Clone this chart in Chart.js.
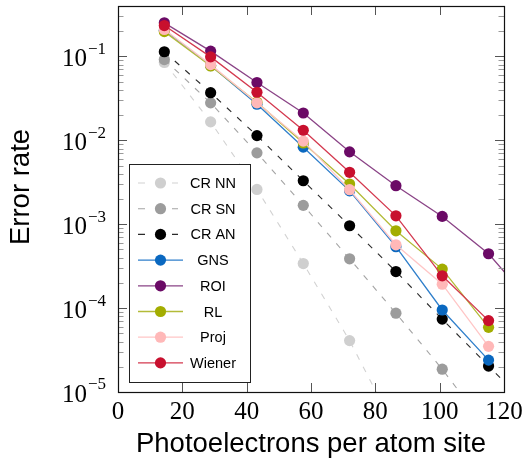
<!DOCTYPE html>
<html><head><meta charset="utf-8">
<script src="https://cdn.jsdelivr.net/npm/chart.js@4"></script>
<style>html,body{margin:0;padding:0;background:#fff;overflow:hidden}</style>
</head><body>
<canvas id="c" width="530" height="466"></canvas>
<script>
// photoelectrons per atom site (x positions of the measurements)
const photoelectrons = [14.4, 28.8, 43.2, 57.6, 72, 86.4, 100.8, 115.2, 129.6];
const seriesNames = ['CR NN', 'CR SN', 'CR AN', 'GNS', 'ROI', 'RL', 'Proj', 'Wiener'];
const crNN   = [0.085, 0.0166, 0.0026, 0.00034, 4.1e-5, 3.5e-6];
const crSN   = [0.092, 0.028, 0.0071, 0.00168, 0.000387, 8.7e-5, 1.87e-5, 3.5e-6];
const crAN   = [0.114, 0.037, 0.0114, 0.0033, 0.00096, 0.000273, 7.4e-5, 2.04e-5, 5.7e-6];
const gns    = [0.205, 0.078, 0.027, 0.0083, 0.0025, 0.00054, 9.5e-5, 2.4e-5];
const roi    = [0.252, 0.116, 0.049, 0.0212, 0.0073, 0.00288, 0.00124, 0.000445, 1.03e-4];
const rl     = [0.198, 0.077, 0.0285, 0.0093, 0.00302, 0.000835, 0.000292, 5.9e-5];
const proj   = [0.21, 0.080, 0.028, 0.0098, 0.00258, 0.000569, 0.000193, 3.5e-5];
const wiener = [0.234, 0.099, 0.0375, 0.0132, 0.00416, 0.00126, 0.000243, 7.1e-5];
const xTicks = [0, 20, 40, 60, 80, 100, 120];
const yDecades = [-5, -4, -3, -2, -1];
const xTitle = 'Photoelectrons per atom site';
const yTitle = 'Error rate';

const seriesValues = [crNN, crSN, crAN, gns, roi, rl, proj, wiener];
const styles = [
  {point:'#cfcfcf', line:'#d2d2d2', dash:true},
  {point:'#9c9c9c', line:'#a4a4a4', dash:true},
  {point:'#000000', line:'#2a2a2a', dash:true},
  {point:'#0a68c0', line:'#2f7fcb', dash:false},
  {point:'#6b0a66', line:'#8a4386', dash:false},
  {point:'#a3ad00', line:'#b3bb38', dash:false},
  {point:'#ffb8b8', line:'#ffc6c6', dash:false},
  {point:'#c8102e', line:'#d4394f', dash:false}
];

const datasets = seriesValues.map((vals, i) => ({
  label: seriesNames[i],
  data: vals.map((v, k) => ({x: photoelectrons[k], y: v})),
  borderColor: styles[i].line,
  borderWidth: styles[i].dash ? 1.1 : 1.3,
  borderDash: styles[i].dash ? [6, 8] : [],
  pointBackgroundColor: styles[i].point,
  pointBorderWidth: 0,
  pointRadius: 5.6,
  pointHoverRadius: 5.6,
  tension: 0,
  fill: false,
  order: seriesNames.length - 1 - i,
  clip: 0
}));

const L = 118, R = 504, T = 6, B = 392;

const decor = {
  id: 'decor',
  afterDraw(chart) {
    const ctx = chart.ctx;
    const xs = chart.scales.x, ys = chart.scales.y;
    ctx.save();
    // ticks
    ctx.lineWidth = 1;
    const yMax = ys.max;
    yDecades.forEach(d => {
      for (let m = 1; m <= 9; m++) {
        const v = m * Math.pow(10, d);
        if (v > yMax * 1.0001) break;
        const y = Math.round(ys.getPixelForValue(v)) + 0.5;
        const len = m === 1 ? 9 : 5.5;
        ctx.strokeStyle = m === 1 ? '#555' : '#9a9a9a';
        ctx.beginPath();
        ctx.moveTo(L, y); ctx.lineTo(L + len, y);
        ctx.moveTo(R, y); ctx.lineTo(R - len, y);
        ctx.stroke();
      }
    });
    ctx.strokeStyle = '#555';
    xTicks.forEach(t => {
      const x = Math.round(xs.getPixelForValue(t)) + 0.5;
      ctx.beginPath();
      ctx.moveTo(x, B); ctx.lineTo(x, B - 9);
      ctx.moveTo(x, T); ctx.lineTo(x, T + 9);
      ctx.stroke();
    });
    // frame
    ctx.strokeStyle = '#111';
    ctx.lineWidth = 1.2;
    ctx.strokeRect(L + 0.5, T + 0.5, R - L, B - T);

    // x tick labels
    ctx.fillStyle = '#000';
    ctx.font = '25px "Liberation Serif", serif';
    ctx.textAlign = 'center';
    ctx.textBaseline = 'middle';
    xTicks.forEach(t => {
      ctx.fillText(String(t), xs.getPixelForValue(t), 412);
    });
    // y tick labels 10^d
    yDecades.forEach(d => {
      const y = ys.getPixelForValue(Math.pow(10, d));
      const exp = '\u2212' + Math.abs(d);
      ctx.font = '17px "Liberation Serif", serif';
      ctx.textAlign = 'right';
      const ew = ctx.measureText(exp).width;
      ctx.fillText(exp, 106, y - 7);
      ctx.font = '25px "Liberation Serif", serif';
      ctx.fillText('10', 106 - ew - 1, y + 3);
    });
    // axis titles
    ctx.font = '27.5px "Liberation Sans", Arial, sans-serif';
    ctx.textAlign = 'center';
    ctx.fillText(xTitle, 311, 444);
    ctx.save();
    ctx.translate(21, 187);
    ctx.rotate(-Math.PI / 2);
    ctx.fillText(yTitle, 0, 0);
    ctx.restore();

    // legend
    const lx = 129.5, ly = 164.5, lw = 121, lh = 218;
    ctx.fillStyle = '#fff';
    ctx.fillRect(lx, ly, lw, lh);
    ctx.strokeStyle = '#222';
    ctx.lineWidth = 1;
    ctx.strokeRect(lx, ly, lw, lh);
    ctx.font = '14.5px "Liberation Sans", Arial, sans-serif';
    ctx.textAlign = 'center';
    ctx.textBaseline = 'middle';
    seriesNames.forEach((name, i) => {
      const y = 183 + i * 25.7;
      const st = styles[i];
      ctx.strokeStyle = st.line;
      ctx.lineWidth = st.dash ? 1.1 : 1.3;
      ctx.beginPath();
      if (st.dash) {
        ctx.moveTo(138, y); ctx.lineTo(145, y);
        ctx.moveTo(172, y); ctx.lineTo(178, y);
      } else {
        ctx.moveTo(138, y); ctx.lineTo(183, y);
      }
      ctx.stroke();
      ctx.fillStyle = st.point;
      ctx.beginPath();
      ctx.arc(160.5, y, 5.6, 0, Math.PI * 2);
      ctx.fill();
      ctx.fillStyle = '#000';
      ctx.fillText(name, 213, y + 1);
    });
    ctx.restore();
  }
};

new Chart(document.getElementById('c'), {
  type: 'line',
  data: {datasets},
  options: {
    responsive: false,
    animation: false,
    events: [],
    layout: {padding: {left: L, right: 530 - R, top: T, bottom: 466 - B}},
    plugins: {legend: {display: false}, title: {display: false}, tooltip: {enabled: false}},
    scales: {
      x: {type: 'linear', min: 0, max: 120, display: false},
      y: {type: 'logarithmic', min: 1e-5, max: 0.4, display: false}
    }
  },
  plugins: [decor]
});
</script>
</body></html>
